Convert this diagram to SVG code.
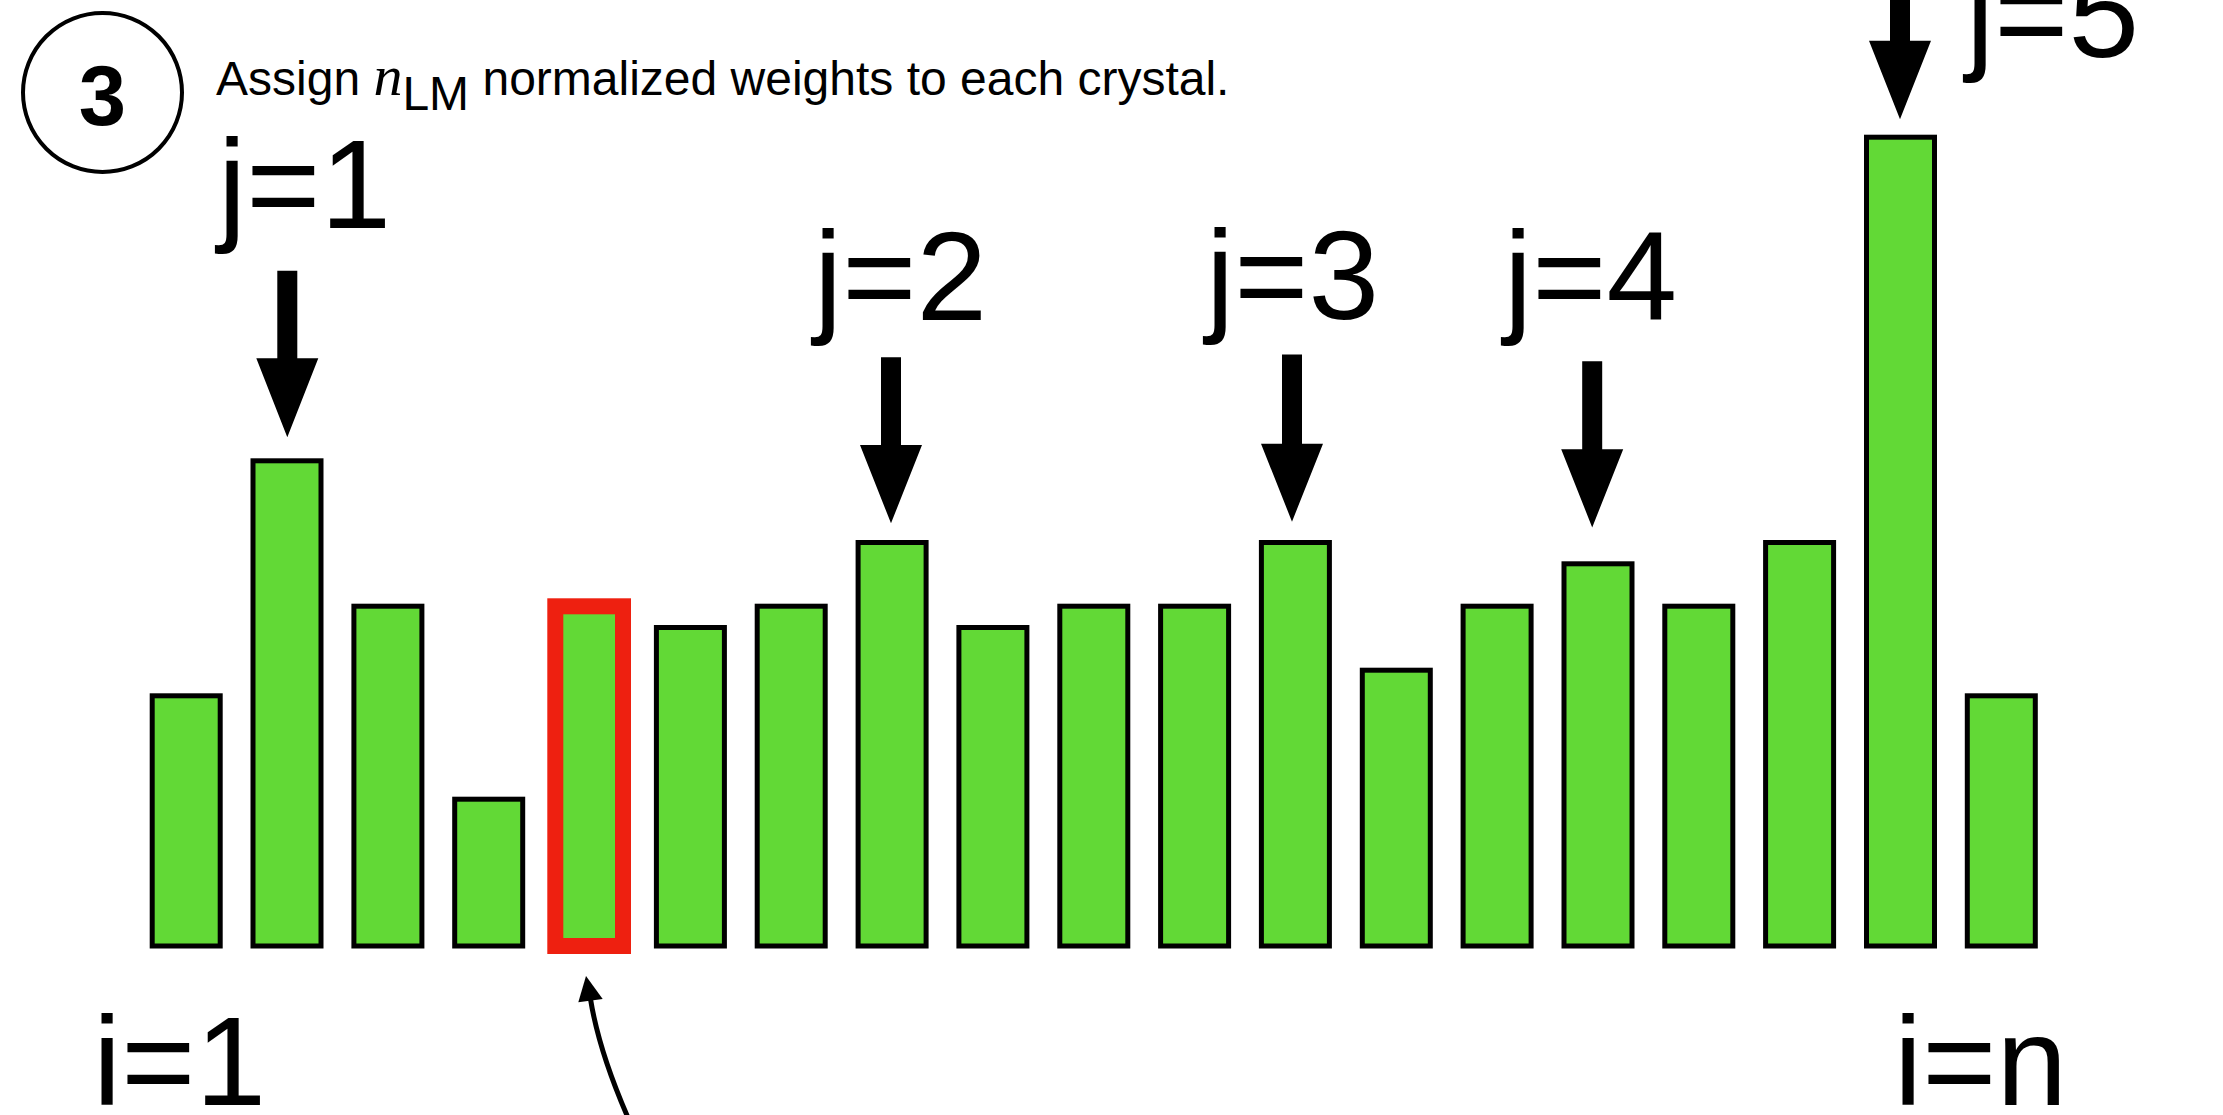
<svg xmlns="http://www.w3.org/2000/svg" width="2223" height="1115" viewBox="0 0 2223 1115">
<style>
.bar{fill:#62d936;stroke:#000;stroke-width:5}
.sel{fill:#62d936;stroke:#ee2010;stroke-width:16}
.lbl{font-family:"Liberation Sans",Arial,sans-serif;font-size:127px;fill:#000}
.head{font-family:"Liberation Sans",Arial,sans-serif;font-size:48px;fill:#000}
.arr{fill:#000}
</style>
<rect width="2223" height="1115" fill="#fff"/>
<g id="step">
<circle cx="102.5" cy="92.5" r="79.5" fill="#fff" stroke="#000" stroke-width="4"/>
<text x="102.5" y="125" text-anchor="middle" style="font-family:'Liberation Sans',Arial,sans-serif;font-weight:bold;font-size:85px">3</text>
</g>
<g id="title">
<text class="head" x="216" y="95">Assign <tspan style="font-family:'Liberation Serif','Times New Roman',serif;font-style:italic;font-size:58px">n</tspan><tspan dy="15" font-size="48">LM</tspan><tspan dy="-15"> normalized weights to each crystal.</tspan></text>
</g>
<g id="bars">
<rect id="b1" class="bar" x="152.2" y="695.8" width="68" height="250.2"/>
<rect id="b2" class="bar" x="253.0" y="460.8" width="68" height="485.2"/>
<rect id="b3" class="bar" x="353.9" y="606.2" width="68" height="339.8"/>
<rect id="b4" class="bar" x="454.7" y="799.2" width="68" height="146.8"/>
<rect id="b5" class="sel" x="555.3" y="606.3" width="67.7" height="339.7"/>
<rect id="b6" class="bar" x="656.4" y="627.5" width="68" height="318.5"/>
<rect id="b7" class="bar" x="757.2" y="606.2" width="68" height="339.8"/>
<rect id="b8" class="bar" x="858.1" y="542.5" width="68" height="403.5"/>
<rect id="b9" class="bar" x="958.9" y="627.5" width="68" height="318.5"/>
<rect id="b10" class="bar" x="1059.8" y="606.2" width="68" height="339.8"/>
<rect id="b11" class="bar" x="1160.6" y="606.2" width="68" height="339.8"/>
<rect id="b12" class="bar" x="1261.4" y="542.5" width="68" height="403.5"/>
<rect id="b13" class="bar" x="1362.3" y="670.2" width="68" height="275.8"/>
<rect id="b14" class="bar" x="1463.1" y="606.2" width="68" height="339.8"/>
<rect id="b15" class="bar" x="1564.0" y="563.8" width="68" height="382.2"/>
<rect id="b16" class="bar" x="1664.8" y="606.2" width="68" height="339.8"/>
<rect id="b17" class="bar" x="1765.6" y="542.5" width="68" height="403.5"/>
<rect id="b18" class="bar" x="1866.5" y="137.2" width="68" height="808.8"/>
<rect id="b19" class="bar" x="1967.3" y="695.8" width="68" height="250.2"/>
</g>
<g id="labels">
<text class="lbl" x="218" y="228">j=1</text>
<text class="lbl" x="814" y="320">j=2</text>
<text class="lbl" x="1206" y="319">j=3</text>
<text class="lbl" x="1504" y="320">j=4</text>
<text class="lbl" x="1966" y="57">j=5</text>
<text class="lbl" x="93" y="1105">i=1</text>
<text class="lbl" x="1894" y="1105">i=n</text>
</g>
<g id="connectors">
<polygon class="arr" points="277.3,270.7 297.3,270.7 297.3,358.3 318.3,358.3 287.3,437.3 256.3,358.3 277.3,358.3"/>
<polygon class="arr" points="881,357.3 901,357.3 901,445 922,445 891,523.3 860,445 881,445"/>
<polygon class="arr" points="1282,354.4 1302,354.4 1302,443.7 1323,443.7 1292,521.7 1261,443.7 1282,443.7"/>
<polygon class="arr" points="1582.2,361.3 1602.2,361.3 1602.2,449.3 1623.2,449.3 1592.2,527.4 1561.2,449.3 1582.2,449.3"/>
<polygon class="arr" points="1890,-5 1910,-5 1910,40.7 1931,40.7 1900,119.3 1869,40.7 1890,40.7"/>
<path d="M629,1120 Q599,1051.7 590.5,999" fill="none" stroke="#000" stroke-width="5"/>
<polygon class="arr" points="586,976 602.7,999 578.3,1002.3"/>
</g>
</svg>
